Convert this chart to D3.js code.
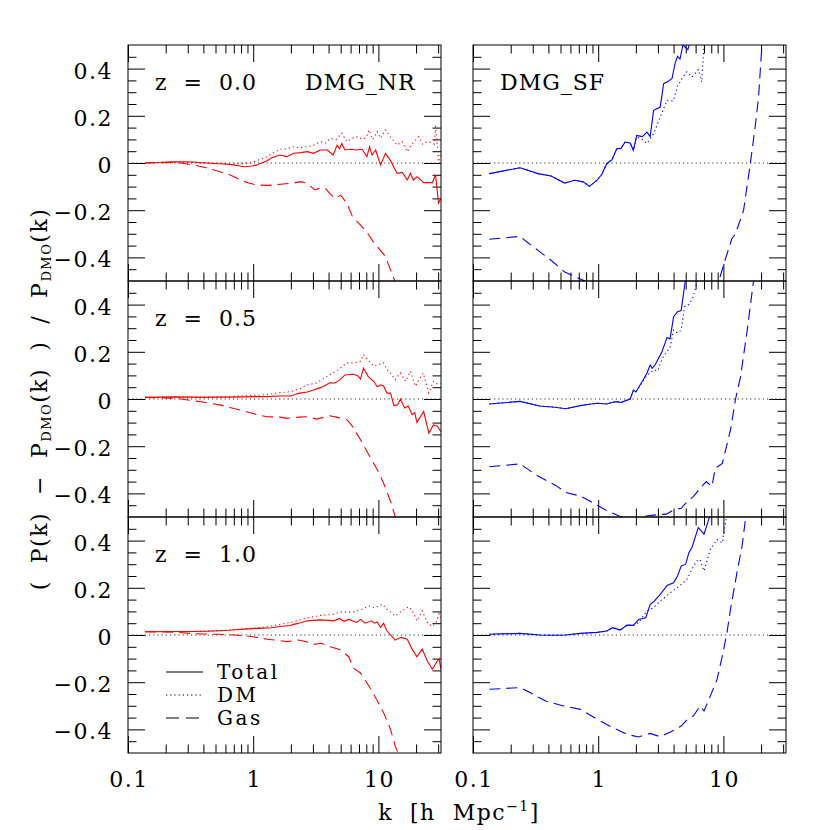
<!DOCTYPE html>
<html>
<head>
<meta charset="utf-8">
<script src="https://cdn.jsdelivr.net/npm/d3@7"></script>
<style>
  body { margin: 0; background: #fff; }
</style>
</head>
<body>
<svg width="830" height="830"></svg>
<script>
// [k, (P - P_DMO)/P_DMO], one array per curve
const nrZ00Total = [[0.137,0.0],[0.24,0.005],[0.33,0.004],[0.42,0.0],[0.54,-0.003],[0.65,-0.006],[0.76,-0.012],[0.85,-0.016],[0.98,-0.013],[1.07,-0.008],[1.17,0.0],[1.29,0.01],[1.41,0.022],[1.55,0.03],[1.64,0.034],[1.86,0.027],[2.1,0.041],[2.4,0.044],[2.7,0.048],[3.03,0.041],[3.44,0.055],[3.9,0.055],[4.35,0.034],[4.68,0.076],[4.9,0.06],[5.1,0.083],[5.4,0.055],[6.0,0.058],[6.7,0.055],[7.4,0.058],[8.1,0.027],[8.5,0.069],[8.9,0.034],[9.5,0.055],[10.4,-0.008],[11.4,0.041],[12.5,0.01],[14.1,-0.044],[15.5,-0.04],[17,-0.072],[18,-0.044],[19,-0.072],[20.4,-0.058],[23,-0.083],[27,-0.083],[28.6,-0.05],[30.2,-0.17],[31.6,-0.15]];
const nrZ00DM = [[0.137,0.0],[0.24,0.005],[0.33,0.003],[0.42,0.0],[0.54,-0.002],[0.65,-0.003],[0.76,-0.004],[0.85,-0.002],[0.98,0.002],[1.07,0.01],[1.17,0.018],[1.29,0.026],[1.41,0.04],[1.64,0.058],[1.86,0.06],[2.1,0.069],[2.4,0.065],[2.7,0.069],[3.03,0.075],[3.44,0.09],[3.8,0.085],[4.13,0.104],[4.6,0.1],[5.1,0.126],[5.6,0.09],[6.2,0.105],[6.7,0.111],[7.6,0.1],[8.1,0.115],[8.4,0.14],[9.0,0.1],[9.8,0.133],[10.4,0.105],[11.4,0.14],[12.5,0.11],[14.1,0.076],[15.5,0.09],[17,0.048],[18,0.07],[19.2,0.09],[21,0.111],[22.5,0.08],[24.5,0.09],[27,0.085],[28,0.08],[28.6,0.161],[29.5,0.08],[30.2,0.005],[31.6,0.045]];
const nrZ00Gas = [[0.137,0.0],[0.24,0.003],[0.33,-0.008],[0.42,-0.02],[0.54,-0.037],[0.65,-0.05],[0.79,-0.072],[0.92,-0.085],[1.07,-0.093],[1.3,-0.095],[1.55,-0.092],[1.8,-0.088],[2.1,-0.085],[2.4,-0.079],[2.7,-0.086],[3.1,-0.114],[3.4,-0.107],[3.76,-0.107],[4.1,-0.13],[4.5,-0.15],[5.0,-0.136],[5.6,-0.171],[6.2,-0.227],[7.2,-0.263],[8.2,-0.298],[9.0,-0.33],[9.8,-0.354],[11.4,-0.397],[12.8,-0.467],[13.6,-0.503],[15,-0.6]];

const nrZ05Total = [[0.137,0.007],[0.24,0.009],[0.33,0.008],[0.42,0.007],[0.54,0.008],[0.65,0.008],[0.76,0.009],[0.85,0.009],[1.0,0.01],[1.2,0.01],[1.4,0.011],[1.64,0.013],[1.98,0.013],[2.1,0.017],[2.3,0.024],[2.7,0.03],[3.03,0.038],[3.3,0.045],[3.6,0.052],[4.1,0.069],[4.5,0.068],[4.9,0.08],[5.4,0.102],[6.2,0.105],[6.8,0.1],[7.2,0.084],[7.6,0.131],[8.3,0.095],[9.2,0.074],[9.8,0.052],[10.5,0.06],[11.0,0.055],[11.7,0.025],[12.5,0.025],[13.3,-0.028],[14.2,-0.025],[15,0.0],[16.2,-0.038],[17.3,-0.03],[18.6,-0.066],[19.5,-0.058],[20.3,-0.099],[23,-0.053],[25.3,-0.145],[27.5,-0.11],[29.5,-0.115],[31.6,-0.138]];
const nrZ05DM = [[0.137,0.007],[0.24,0.009],[0.33,0.008],[0.42,0.008],[0.54,0.009],[0.65,0.01],[0.76,0.012],[0.85,0.013],[1.0,0.015],[1.2,0.018],[1.4,0.022],[1.64,0.027],[1.98,0.031],[2.1,0.036],[2.4,0.045],[2.7,0.06],[3.2,0.068],[3.5,0.08],[3.9,0.096],[4.3,0.11],[4.8,0.124],[5.2,0.14],[5.6,0.153],[6.5,0.153],[7.2,0.16],[7.6,0.188],[8.3,0.165],[9.2,0.139],[10.0,0.145],[11,0.153],[11.7,0.124],[12.5,0.11],[13.6,0.082],[15,0.11],[16.5,0.075],[18,0.117],[19.8,0.054],[21,0.08],[22.8,0.11],[25.3,0.026],[27.5,0.074],[29.5,0.065],[31.6,0.067]];
const nrZ05Gas = [[0.137,0.007],[0.24,0.003],[0.33,-0.007],[0.42,-0.015],[0.54,-0.025],[0.7,-0.04],[0.89,-0.054],[1.07,-0.066],[1.29,-0.075],[1.64,-0.077],[1.86,-0.082],[2.3,-0.077],[2.7,-0.075],[3.2,-0.085],[3.7,-0.077],[4.1,-0.071],[4.9,-0.08],[5.6,-0.088],[6.2,-0.116],[7.2,-0.173],[8.4,-0.237],[9.8,-0.3],[11,-0.356],[12.5,-0.434],[13.6,-0.497],[15,-0.58]];

const nrZ10Total = [[0.137,0.014],[0.24,0.015],[0.33,0.015],[0.42,0.016],[0.54,0.018],[0.65,0.02],[0.76,0.023],[0.85,0.025],[1.0,0.027],[1.2,0.029],[1.4,0.031],[1.64,0.036],[1.98,0.04],[2.1,0.045],[2.4,0.052],[2.7,0.06],[3.03,0.062],[3.44,0.064],[4.0,0.062],[4.4,0.06],[4.9,0.07],[5.3,0.058],[5.8,0.066],[6.7,0.053],[7.2,0.066],[7.8,0.05],[8.8,0.06],[9.3,0.05],[9.8,0.055],[10.4,0.032],[11,0.05],[11.7,0.018],[13.6,-0.022],[15.2,-0.01],[17,-0.018],[18.6,-0.06],[20.3,-0.092],[22.4,-0.06],[24.6,-0.11],[27,-0.145],[29.5,-0.11],[30.5,-0.1],[31.6,-0.145]];
const nrZ10DM = [[0.137,0.014],[0.24,0.015],[0.33,0.015],[0.42,0.016],[0.54,0.018],[0.65,0.021],[0.76,0.024],[0.85,0.026],[1.0,0.029],[1.2,0.033],[1.4,0.038],[1.64,0.045],[2.1,0.056],[2.7,0.073],[3.44,0.083],[4.4,0.088],[4.9,0.097],[6.3,0.097],[7.4,0.109],[8.4,0.123],[9.3,0.115],[10.8,0.13],[11.7,0.109],[13.6,0.081],[15.2,0.1],[17.5,0.12],[19,0.095],[20.3,0.06],[22.4,0.102],[24.6,0.052],[27,0.036],[29.5,0.06],[30.5,0.09],[31.6,0.074]];
const nrZ10Gas = [[0.137,0.014],[0.24,0.012],[0.33,0.006],[0.42,0.004],[0.54,0.003],[0.7,0.0],[0.89,-0.004],[1.07,-0.01],[1.29,-0.018],[1.64,-0.024],[1.86,-0.028],[2.3,-0.021],[2.7,-0.03],[3.03,-0.04],[3.5,-0.035],[4.1,-0.05],[4.9,-0.061],[5.8,-0.092],[6.3,-0.14],[7.2,-0.161],[8.4,-0.216],[9.8,-0.279],[11,-0.329],[12.5,-0.4],[13.6,-0.47],[14.1,-0.49],[15.5,-0.58]];

const sfZ00Total = [[0.135,-0.045],[0.238,-0.02],[0.33,-0.045],[0.42,-0.055],[0.54,-0.085],[0.65,-0.073],[0.76,-0.08],[0.85,-0.099],[0.98,-0.073],[1.07,-0.048],[1.17,-0.003],[1.29,0.014],[1.41,0.061],[1.52,0.062],[1.64,0.089],[1.8,0.085],[1.91,0.054],[2.03,0.117],[2.25,0.112],[2.45,0.131],[2.6,0.112],[2.77,0.223],[3.13,0.237],[3.33,0.336],[3.6,0.345],[3.89,0.358],[4.1,0.42],[4.3,0.452],[4.5,0.44],[4.75,0.5],[5.2,0.48],[5.5,0.53],[6,0.56]];
const sfZ00DM = [[0.135,-0.045],[0.238,-0.02],[0.33,-0.045],[0.42,-0.055],[0.54,-0.085],[0.65,-0.073],[0.76,-0.08],[0.85,-0.099],[0.98,-0.073],[1.07,-0.048],[1.17,-0.003],[1.29,0.014],[1.41,0.061],[1.52,0.062],[1.64,0.089],[1.8,0.085],[1.91,0.054],[2.03,0.11],[2.25,0.1],[2.45,0.083],[2.77,0.124],[3.13,0.195],[3.55,0.266],[3.98,0.263],[4.3,0.325],[4.75,0.364],[5.1,0.386],[5.6,0.364],[6.3,0.396],[6.7,0.343],[7.0,0.5],[7.3,0.55]];
const sfZ00Gas = [[0.135,-0.323],[0.238,-0.311],[0.27,-0.335],[0.33,-0.37],[0.42,-0.412],[0.54,-0.462],[0.76,-0.497],[1.0,-0.53],[1.5,-0.56],[2.5,-0.58],[4,-0.57],[6,-0.55],[8,-0.52],[9.2,-0.5],[10,-0.434],[11.7,-0.32],[12.5,-0.3],[14.5,-0.2],[16.4,-0.003],[18,0.16],[19.1,0.28],[20.3,0.5],[21,0.6]];

const sfZ05Total = [[0.135,-0.021],[0.238,-0.01],[0.34,-0.03],[0.45,-0.035],[0.55,-0.041],[0.72,-0.028],[0.85,-0.022],[0.98,-0.018],[1.17,-0.021],[1.3,-0.014],[1.41,-0.011],[1.52,-0.015],[1.64,-0.008],[1.8,0.0],[1.91,0.038],[2.0,0.03],[2.24,0.073],[2.45,0.109],[2.6,0.144],[2.7,0.13],[2.85,0.145],[3.23,0.2],[3.55,0.261],[3.75,0.255],[4.0,0.349],[4.3,0.37],[4.6,0.375],[4.97,0.504],[5.3,0.6]];
const sfZ05DM = [[0.135,-0.021],[0.238,-0.01],[0.34,-0.03],[0.45,-0.035],[0.55,-0.041],[0.72,-0.028],[0.85,-0.022],[0.98,-0.018],[1.17,-0.021],[1.3,-0.014],[1.41,-0.011],[1.52,-0.015],[1.64,-0.008],[1.8,0.0],[1.91,0.035],[2.0,0.03],[2.24,0.07],[2.45,0.1],[2.77,0.123],[3.0,0.12],[3.23,0.17],[3.77,0.222],[4.0,0.292],[4.3,0.28],[4.6,0.292],[4.9,0.391],[5.3,0.4],[5.75,0.433],[6.3,0.52]];
const sfZ05Gas = [[0.135,-0.287],[0.238,-0.275],[0.32,-0.322],[0.45,-0.364],[0.56,-0.397],[0.72,-0.411],[0.92,-0.442],[1.17,-0.473],[1.5,-0.498],[2.0,-0.505],[2.5,-0.495],[3.0,-0.49],[3.5,-0.488],[4.0,-0.47],[4.6,-0.463],[5.3,-0.428],[5.75,-0.414],[6.7,-0.371],[7.3,-0.35],[8.1,-0.371],[8.6,-0.294],[9.8,-0.273],[11.4,-0.131],[12.5,0.0],[13.7,0.094],[15.5,0.292],[17.4,0.5],[18,0.57]];

const sfZ10Total = [[0.135,0.003],[0.238,0.007],[0.34,0.0],[0.45,-0.001],[0.55,0.0],[0.72,0.007],[0.98,0.011],[1.17,0.017],[1.3,0.031],[1.5,0.021],[1.7,0.042],[1.91,0.041],[2.1,0.066],[2.4,0.073],[2.6,0.13],[2.77,0.14],[3.13,0.172],[3.55,0.21],[4.0,0.221],[4.3,0.25],[4.6,0.292],[5.0,0.3],[5.3,0.349],[5.6,0.37],[6.3,0.455],[7.0,0.427],[7.87,0.511],[8.5,0.6]];
const sfZ10DM = [[0.135,0.003],[0.238,0.007],[0.34,0.0],[0.45,-0.001],[0.55,0.0],[0.72,0.007],[0.98,0.011],[1.17,0.017],[1.3,0.031],[1.5,0.021],[1.7,0.042],[1.91,0.041],[2.1,0.053],[2.45,0.102],[2.77,0.116],[3.13,0.144],[3.77,0.179],[4.6,0.214],[5.1,0.235],[5.6,0.278],[6.1,0.313],[6.5,0.32],[7.0,0.271],[7.87,0.363],[8.9,0.405],[9.8,0.39],[10.5,0.49],[11,0.55]];
const sfZ10Gas = [[0.135,-0.23],[0.238,-0.223],[0.27,-0.237],[0.38,-0.28],[0.53,-0.301],[0.72,-0.315],[0.98,-0.357],[1.3,-0.392],[1.7,-0.421],[2.1,-0.432],[2.6,-0.417],[3.13,-0.431],[3.77,-0.411],[4.6,-0.386],[5.3,-0.35],[5.75,-0.343],[6.5,-0.301],[7.0,-0.322],[7.87,-0.258],[8.9,-0.188],[9.8,-0.089],[10.6,0.0],[11.4,0.109],[12.9,0.271],[14.1,0.377],[15,0.49],[15.8,0.58]];

const redshifts = ['z  =  0.0', 'z  =  0.5', 'z  =  1.0'];
const models = ['DMG_NR', 'DMG_SF'];
const seriesNames = ['Total', 'DM', 'Gas'];
const xMajor = [0.1, 1, 10];
const xMinor = [0.2,0.3,0.4,0.5,0.6,0.7,0.8,0.9,2,3,4,5,6,7,8,9,20,30];
const yMajor = [-0.4, -0.2, 0, 0.2, 0.4];
const yMinor = [-0.45,-0.35,-0.3,-0.25,-0.15,-0.1,-0.05,0.05,0.1,0.15,0.25,0.3,0.35,0.45];

const panels = [
  [[nrZ00Total, nrZ00DM, nrZ00Gas], [sfZ00Total, sfZ00DM, sfZ00Gas]],
  [[nrZ05Total, nrZ05DM, nrZ05Gas], [sfZ05Total, sfZ05DM, sfZ05Gas]],
  [[nrZ10Total, nrZ10DM, nrZ10Gas], [sfZ10Total, sfZ10DM, sfZ10Gas]]
];

const colLeft = [128, 473];
const rowTop = [45, 281, 517];
const pw = 313, ph = 236;
const colors = ['#ff0000', '#0000ff'];
const dashes = [null, '1.2,3', '11,6'];
const bigTick = 17, smallTick = 8.5;
const font = 'DejaVu Serif';

const svg = d3.select('svg');

const x = d3.scaleLog().domain([0.1, Math.pow(10, 1.5)]).range([0, pw]);
const y = d3.scaleLinear().domain([-0.5, 0.5]).range([ph, 0]);

const line = d3.line()
  .x(d => x(d[0]))
  .y(d => y(d[1]));

svg.append('defs').append('clipPath').attr('id', 'panelClip')
  .append('rect').attr('width', pw).attr('height', ph);

// ticks on all four sides, pointing into the panel
function drawTicks(g) {
  const sides = [
    [d3.axisBottom(x), `translate(0,${ph})`, xMajor, xMinor],
    [d3.axisTop(x), 'translate(0,0)', xMajor, xMinor],
    [d3.axisLeft(y), 'translate(0,0)', yMajor, yMinor],
    [d3.axisRight(y), `translate(${pw},0)`, yMajor, yMinor]
  ];
  sides.forEach(([axis, tr, major, minor]) => {
    [[major, bigTick], [minor, smallTick]].forEach(([vals, len]) => {
      const a = g.append('g').attr('transform', tr)
        .call(axis.tickValues(vals).tickSize(-len).tickFormat(''));
      a.select('.domain').remove();
      a.selectAll('line').attr('stroke', '#000').attr('stroke-width', 1);
    });
  });
}

// all text in one font, set on the element itself
function label(sel, size, spacing) {
  return sel.attr('font-family', font)
    .attr('font-size', size)
    .attr('letter-spacing', spacing)
    .attr('fill', '#000');
}

panels.forEach((row, ri) => {
  row.forEach((series, ci) => {
    const g = svg.append('g').attr('transform', `translate(${colLeft[ci]},${rowTop[ri]})`);

    drawTicks(g);

    // zero reference
    g.append('line')
      .attr('x1', 0).attr('x2', pw)
      .attr('y1', y(0)).attr('y2', y(0))
      .attr('stroke', '#333').attr('stroke-width', 1)
      .attr('stroke-dasharray', '1.2,3');

    const lines = g.append('g').attr('clip-path', 'url(#panelClip)');
    series.forEach((data, si) => {
      lines.append('path')
        .datum(data)
        .attr('d', line)
        .attr('fill', 'none')
        .attr('stroke', colors[ci])
        .attr('stroke-width', 1.1)
        .attr('stroke-dasharray', dashes[si]);
    });

    g.append('rect')
      .attr('width', pw).attr('height', ph)
      .attr('fill', 'none').attr('stroke', '#000').attr('stroke-width', 1);

    // y labels on the left column
    if (ci === 0) {
      g.selectAll('.ylab').data(yMajor).enter().append('text')
        .call(label, 22, 1.5)
        .attr('x', -15)
        .attr('y', d => y(d) + 10)
        .attr('text-anchor', 'end')
        .text(d => d === 0 ? '0' : d3.format('.1f')(d).replace('-', '\u2212'));
      g.append('text')
        .call(label, 22, 1)
        .attr('x', 27).attr('y', 45)
        .style('white-space', 'pre')
        .text(redshifts[ri]);
    }
    // x labels on the bottom row
    if (ri === 2) {
      g.selectAll('.xlab').data(xMajor).enter().append('text')
        .call(label, 22, 1.5)
        .attr('x', d => x(d) + 1)
        .attr('y', ph + 34)
        .attr('text-anchor', 'middle')
        .text(d => d3.format('~g')(d));
    }
    if (ri === 0) {
      g.append('text')
        .call(label, 22, 1)
        .attr('x', ci === 0 ? 177 : 27).attr('y', 45)
        .text(models[ci]);
    }
    // legend in the lower left panel
    if (ri === 2 && ci === 0) {
      const leg = g.append('g').attr('transform', 'translate(38,155)');
      seriesNames.forEach((name, si) => {
        leg.append('line')
          .attr('x1', 0).attr('x2', 37)
          .attr('y1', si * 23).attr('y2', si * 23)
          .attr('stroke', '#000').attr('stroke-width', 1.1)
          .attr('stroke-dasharray', si === 2 ? '13,7' : dashes[si]);
        leg.append('text')
          .call(label, 20, 2.5)
          .attr('x', 51).attr('y', si * 23 + 7)
          .text(name);
      });
    }
  });
});

// axis titles
svg.append('text')
  .call(label, 22, 1.5)
  .attr('x', 459).attr('y', 820)
  .attr('text-anchor', 'middle')
  .style('white-space', 'pre')
  .call(t => {
    t.append('tspan').text('k  [h  Mpc');
    t.append('tspan').attr('dy', -9).attr('font-size', 14).text('\u22121');
    t.append('tspan').attr('dy', 9).text(']');
  });

svg.append('text')
  .call(label, 22, 1.5)
  .attr('transform', 'translate(47,399) rotate(-90)')
  .attr('text-anchor', 'middle')
  .style('white-space', 'pre')
  .call(t => {
    t.append('tspan').text('(  P(k)  \u2212  P');
    t.append('tspan').attr('dy', 4).attr('font-size', 13).text('DMO');
    t.append('tspan').attr('dy', -4).text('(k)  )  /  P');
    t.append('tspan').attr('dy', 4).attr('font-size', 13).text('DMO');
    t.append('tspan').attr('dy', -4).text('(k)');
  });
</script>
</body>
</html>
